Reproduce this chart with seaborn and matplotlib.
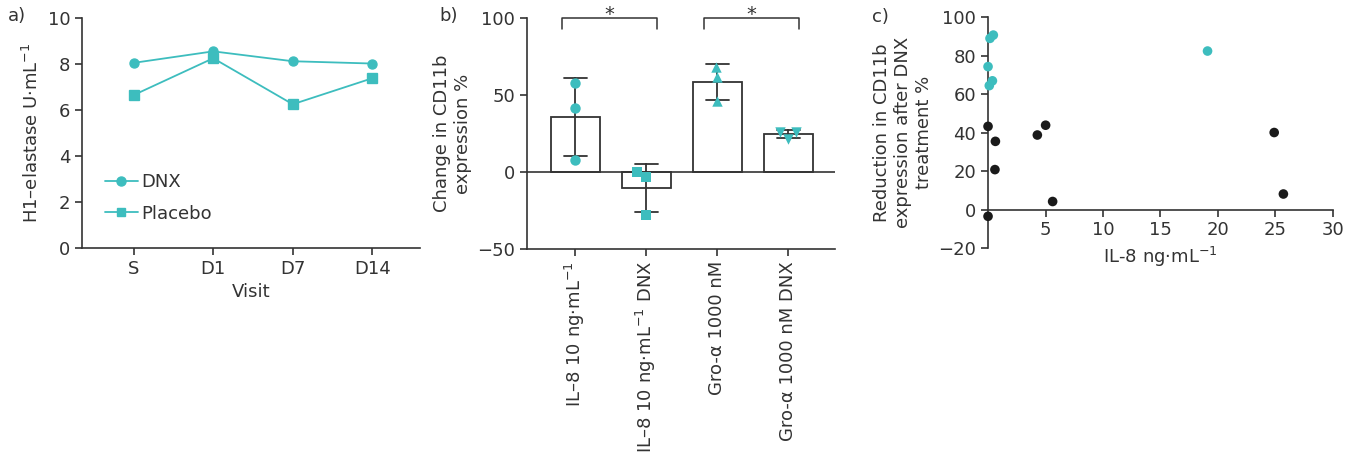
import pandas as pd
import matplotlib
matplotlib.use("Agg")
import matplotlib.pyplot as plt
import seaborn as sns
from matplotlib.lines import Line2D

# data
visits = ["S", "D1", "D7", "D14"]
dnx_elastase = [8.05, 8.55, 8.12, 8.02]
placebo_elastase = [6.65, 8.25, 6.25, 7.38]

conditions = ["IL–8 10 ng·mL$^{-1}$", "IL–8 10 ng·mL$^{-1}$ DNX",
              "Gro-α 1000 nM", "Gro-α 1000 nM DNX"]
cd11b_il8 = [57.9, 41.7, 8.0]
cd11b_il8_dnx = [0.3, -3.0, -28.0]
cd11b_gro = [68.4, 61.7, 45.8]
cd11b_gro_dnx = [26.3, 21.5, 26.1]

teal_il8 = [0.17, 0.46, 0.0, 0.11, 0.38, 19.1]
teal_red = [89.1, 90.8, 74.4, 64.5, 67.0, 82.5]
black_il8 = [0.0, 0.64, 0.6, 0.0, 4.29, 5.01, 5.62, 24.9, 25.7]
black_red = [43.3, 35.5, 20.8, -3.5, 38.8, 43.9, 4.2, 40.1, 8.1]

TEAL = "#3dbdbe"
DARK = "#333333"

sns.set_style("ticks")
plt.rcParams["font.family"] = ["DejaVu Sans"]
plt.rcParams["font.size"] = 13
plt.rcParams["text.color"] = DARK
plt.rcParams["axes.labelcolor"] = DARK
plt.rcParams["axes.edgecolor"] = DARK
plt.rcParams["xtick.color"] = DARK
plt.rcParams["ytick.color"] = DARK
plt.rcParams["axes.linewidth"] = 1.2
plt.rcParams["xtick.major.width"] = 1.2
plt.rcParams["ytick.major.width"] = 1.2
plt.rcParams["xtick.major.size"] = 5
plt.rcParams["ytick.major.size"] = 5
plt.rcParams["axes.unicode_minus"] = True

fig = plt.figure(figsize=(13.6, 4.58), dpi=100)
ax_a = fig.add_axes([0.0603, 0.4585, 0.2485, 0.5022])
ax_b = fig.add_axes([0.3875, 0.4563, 0.2265, 0.5044])
ax_c = fig.add_axes([0.7265, 0.4585, 0.2535, 0.5035])

# ---- a) line chart
df_a = pd.DataFrame({
    "Visit": visits * 2,
    "val": dnx_elastase + placebo_elastase,
    "grp": ["DNX"] * 4 + ["Placebo"] * 4,
})
sns.pointplot(data=df_a, x="Visit", y="val", hue="grp", order=visits,
              palette=[TEAL, TEAL], markers=["o", "s"], linestyles=["-", "-"],
              markersize=6.5, linewidth=1.3, errorbar=None, ax=ax_a, legend=False)
ax_a.set_xlim(-0.65, 3.6)
ax_a.set_ylim(0, 10)
ax_a.set_yticks([0, 2, 4, 6, 8, 10])
ax_a.set_xlabel("Visit")
ax_a.set_ylabel("H1–elastase U·mL$^{-1}$")
sns.despine(ax=ax_a)
handles = [Line2D([], [], color=TEAL, marker="o", markersize=6.5, lw=1.3),
           Line2D([], [], color=TEAL, marker="s", markersize=6, lw=1.3)]
ax_a.legend(handles, ["DNX", "Placebo"], loc="lower left",
            bbox_to_anchor=(0.02, 0.04), frameon=False, handlelength=1.8,
            handletextpad=0.2, labelspacing=0.75, fontsize=13)

# ---- b) bar chart
df_b = pd.DataFrame({
    "cond": [conditions[0]] * 3 + [conditions[1]] * 3 + [conditions[2]] * 3 + [conditions[3]] * 3,
    "val": cd11b_il8 + cd11b_il8_dnx + cd11b_gro + cd11b_gro_dnx,
})
sns.barplot(data=df_b, x="cond", y="val", order=conditions, errorbar="sd",
            color="white", edgecolor=DARK, linewidth=1.3, width=0.69,
            capsize=0.32, err_kws={"color": DARK, "linewidth": 1.3}, ax=ax_b)
for cond, mk in zip(conditions, ["o", "s", "^", "v"]):
    sns.swarmplot(data=df_b[df_b["cond"] == cond], x="cond", y="val",
                  order=conditions, marker=mk, color=TEAL, size=7.5,
                  linewidth=0, ax=ax_b, zorder=3)
ax_b.axhline(0, color=DARK, lw=1.2, zorder=1)
ax_b.set_xlim(-0.68, 3.66)
ax_b.set_ylim(-50, 100)
ax_b.set_yticks([-50, 0, 50, 100])
ax_b.set_xlabel("")
ax_b.set_ylabel("Change in CD11b\nexpression %")
ax_b.tick_params(axis="x", rotation=90)
sns.despine(ax=ax_b)
for i in [0, 2]:
    ax_b.plot([i - 0.19, i - 0.19, i + 1 + 0.15, i + 1 + 0.15], [93, 100, 100, 93],
              color=DARK, lw=1.1, clip_on=False)
    ax_b.text(i + 0.48, 98.5, "*", ha="center", va="baseline", fontsize=14)

# ---- c) scatter
df_c = pd.DataFrame({
    "il8": teal_il8 + black_il8,
    "red": teal_red + black_red,
    "grp": ["t"] * len(teal_il8) + ["k"] * len(black_il8),
})
sns.scatterplot(data=df_c, x="il8", y="red", hue="grp",
                palette={"t": TEAL, "k": "#1a1a1a"}, s=48, linewidth=0,
                legend=False, clip_on=False, ax=ax_c, zorder=3)
ax_c.set_xlim(0, 30)
ax_c.set_ylim(-20, 100)
ax_c.set_xticks([5, 10, 15, 20, 25, 30])
ax_c.set_yticks([-20, 0, 20, 40, 60, 80, 100])
ax_c.spines["bottom"].set_position(("data", 0))
sns.despine(ax=ax_c)
ax_c.set_xlabel("IL-8 ng·mL$^{-1}$")
ax_c.set_ylabel("Reduction in CD11b\nexpression after DNX\ntreatment %")

fig.text(0.006, 0.965, "a)", fontsize=13, va="center")
fig.text(0.323, 0.965, "b)", fontsize=13, va="center")
fig.text(0.641, 0.962, "c)", fontsize=13, va="center")

fig.savefig("out.png", dpi=100)
